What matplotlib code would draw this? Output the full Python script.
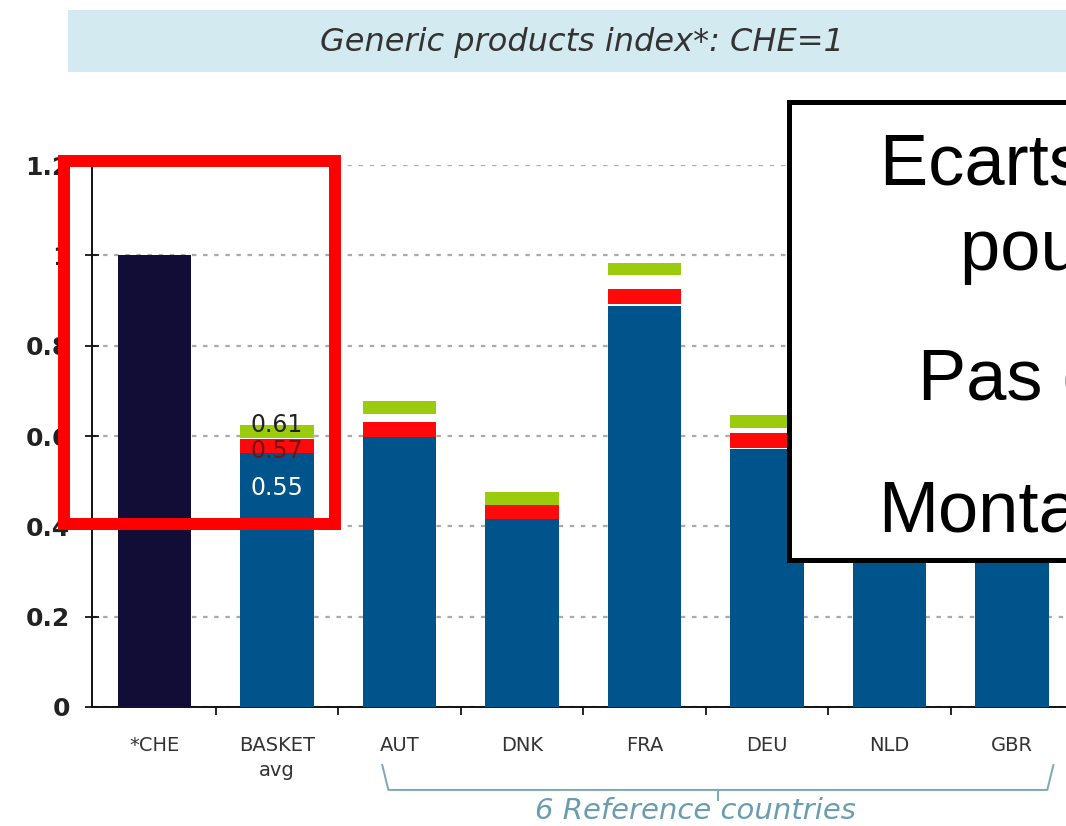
"""
Generic products price index relative to Switzerland (CHE=1),
with the basket average and the six reference countries.
"""

import matplotlib
matplotlib.use("Agg")
import matplotlib.pyplot as plt
from matplotlib.patches import Rectangle
from matplotlib.lines import Line2D
import matplotlib.transforms as mtransforms
import numpy as np

categories = ["*CHE", "BASKET\navg", "AUT", "DNK", "FRA", "DEU", "NLD", "GBR"]
base_values = [1.0, 0.564, 0.597, 0.416, 0.887, 0.571, 0.45, 0.50]
red_values = [np.nan, 0.578, 0.614, 0.432, 0.909, 0.590, 0.47, 0.52]
green_values = [np.nan, 0.610, 0.663, 0.462, 0.970, 0.632, 0.50, 0.55]
basket_labels = ["0.61", "0.57", "0.55"]
yticks = [0, 0.2, 0.4, 0.6, 0.8, 1.0, 1.2]

NAVY = "#110d36"
BLUE = "#00548c"
RED = "#ff0a0a"
GREEN = "#9acb0c"
W, H = 1066, 826


def main():
    fig = plt.figure(figsize=(W / 100, H / 100), dpi=100)
    fig.patch.set_facecolor("white")

    # title banner
    fig.patches.append(Rectangle((68 / W, 1 - 72 / H), 1.0, 62 / H,
                                 transform=fig.transFigure, facecolor="#d4eaf1",
                                 edgecolor="none", zorder=0))
    fig.text(582 / W, 1 - 43 / H, "Generic products index*: CHE=1",
             ha="center", va="center", fontsize=23, style="italic",
             color="#333333")

    ax = fig.add_axes([92 / W, 1 - 707 / H, 981 / W, 542 / H])
    x = np.arange(len(categories))
    width = 0.6

    colors = [NAVY] + [BLUE] * (len(categories) - 1)
    ax.bar(x, base_values, width, color=colors, zorder=3)

    red = np.array(red_values)
    green = np.array(green_values)
    ax.bar(x, 0.032, width, bottom=red - 0.016, color=RED, zorder=4)
    ax.bar(x, 0.028, width, bottom=green - 0.014, color=GREEN, zorder=5)

    # value labels on the basket bar
    ax.text(1, green[1] + 0.014, basket_labels[0], ha="center", va="center",
            fontsize=17, color="#222222", zorder=6)
    ax.text(1, red[1] - 0.012, basket_labels[1], ha="center", va="center",
            fontsize=17, color="#7a1010", zorder=6)
    ax.text(1, base_values[1] - 0.08, basket_labels[2], ha="center", va="center",
            fontsize=17, color="white", zorder=6)

    ax.set_xlim(-0.51, 7.5)
    ax.set_ylim(0, 1.2)
    ax.set_yticks(yticks)
    ax.set_yticklabels([f"{v:g}" for v in yticks], fontsize=18,
                       fontweight="bold", color="#222222")
    ax.tick_params(axis="y", direction="inout", length=10, width=1.2, pad=11)

    ax.set_xticks(x)
    ax.set_xticklabels(categories, fontsize=14, color="#333333",
                       linespacing=1.4)
    ax.set_xticks(np.arange(0.5, 8, 1), minor=True)
    ax.tick_params(axis="x", which="major", length=0, pad=21)
    ax.tick_params(axis="x", which="minor", direction="out", length=6, width=1.2)

    ax.yaxis.grid(True, linestyle=(0, (2, 3)), color="#aaaaaa", lw=1.6, zorder=0)
    ax.set_axisbelow(True)
    for side in ("top", "right"):
        ax.spines[side].set_visible(False)
    for side in ("left", "bottom"):
        ax.spines[side].set_linewidth(1.4)
        ax.spines[side].set_color("#111111")

    # bracket under the reference countries
    trans = mtransforms.blended_transform_factory(ax.transData, ax.transAxes)
    bx0, bx1, bmid = 1.86, 7.34, 4.6
    y_top, y_bot, y_tip = -0.107, -0.153, -0.172
    bracket = Line2D([bx0, bx0 + 0.05, bx1 - 0.05, bx1],
                     [y_top, y_bot, y_bot, y_top], transform=trans,
                     color="#7aa8b8", lw=1.4, clip_on=False)
    tip = Line2D([bmid, bmid], [y_bot, y_tip], transform=trans,
                 color="#7aa8b8", lw=1.4, clip_on=False)
    ax.add_line(bracket)
    ax.add_line(tip)
    ax.text(4.42, -0.192, "6 Reference countries", transform=trans,
            ha="center", va="center", fontsize=21, style="italic",
            color="#6a9db0", clip_on=False)

    # red highlight around CHE and basket
    fig.patches.append(Rectangle((64 / W, 1 - 524 / H), 271 / W, 363 / H,
                                 transform=fig.transFigure, fill=False,
                                 edgecolor="#ff0000", lw=8.6, zorder=10))

    # overlay comment box
    fig.patches.append(Rectangle((789 / W, 1 - 560 / H), 300 / W, 458 / H,
                                 transform=fig.transFigure, facecolor="white",
                                 edgecolor="black", lw=3.6, zorder=11))
    lines = [("Ecarts importants", 880, 185), ("pour les génériques", 960, 270),
             ("Pas de concurrence", 918, 400), ("Montants", 878, 532)]
    for txt, px, py in lines:
        fig.text(px / W, 1 - py / H, txt, ha="left", va="baseline",
                 fontsize=52, family="Liberation Sans", color="black", zorder=12)

    fig.savefig("out.png", dpi=100)


if __name__ == "__main__":
    main()
